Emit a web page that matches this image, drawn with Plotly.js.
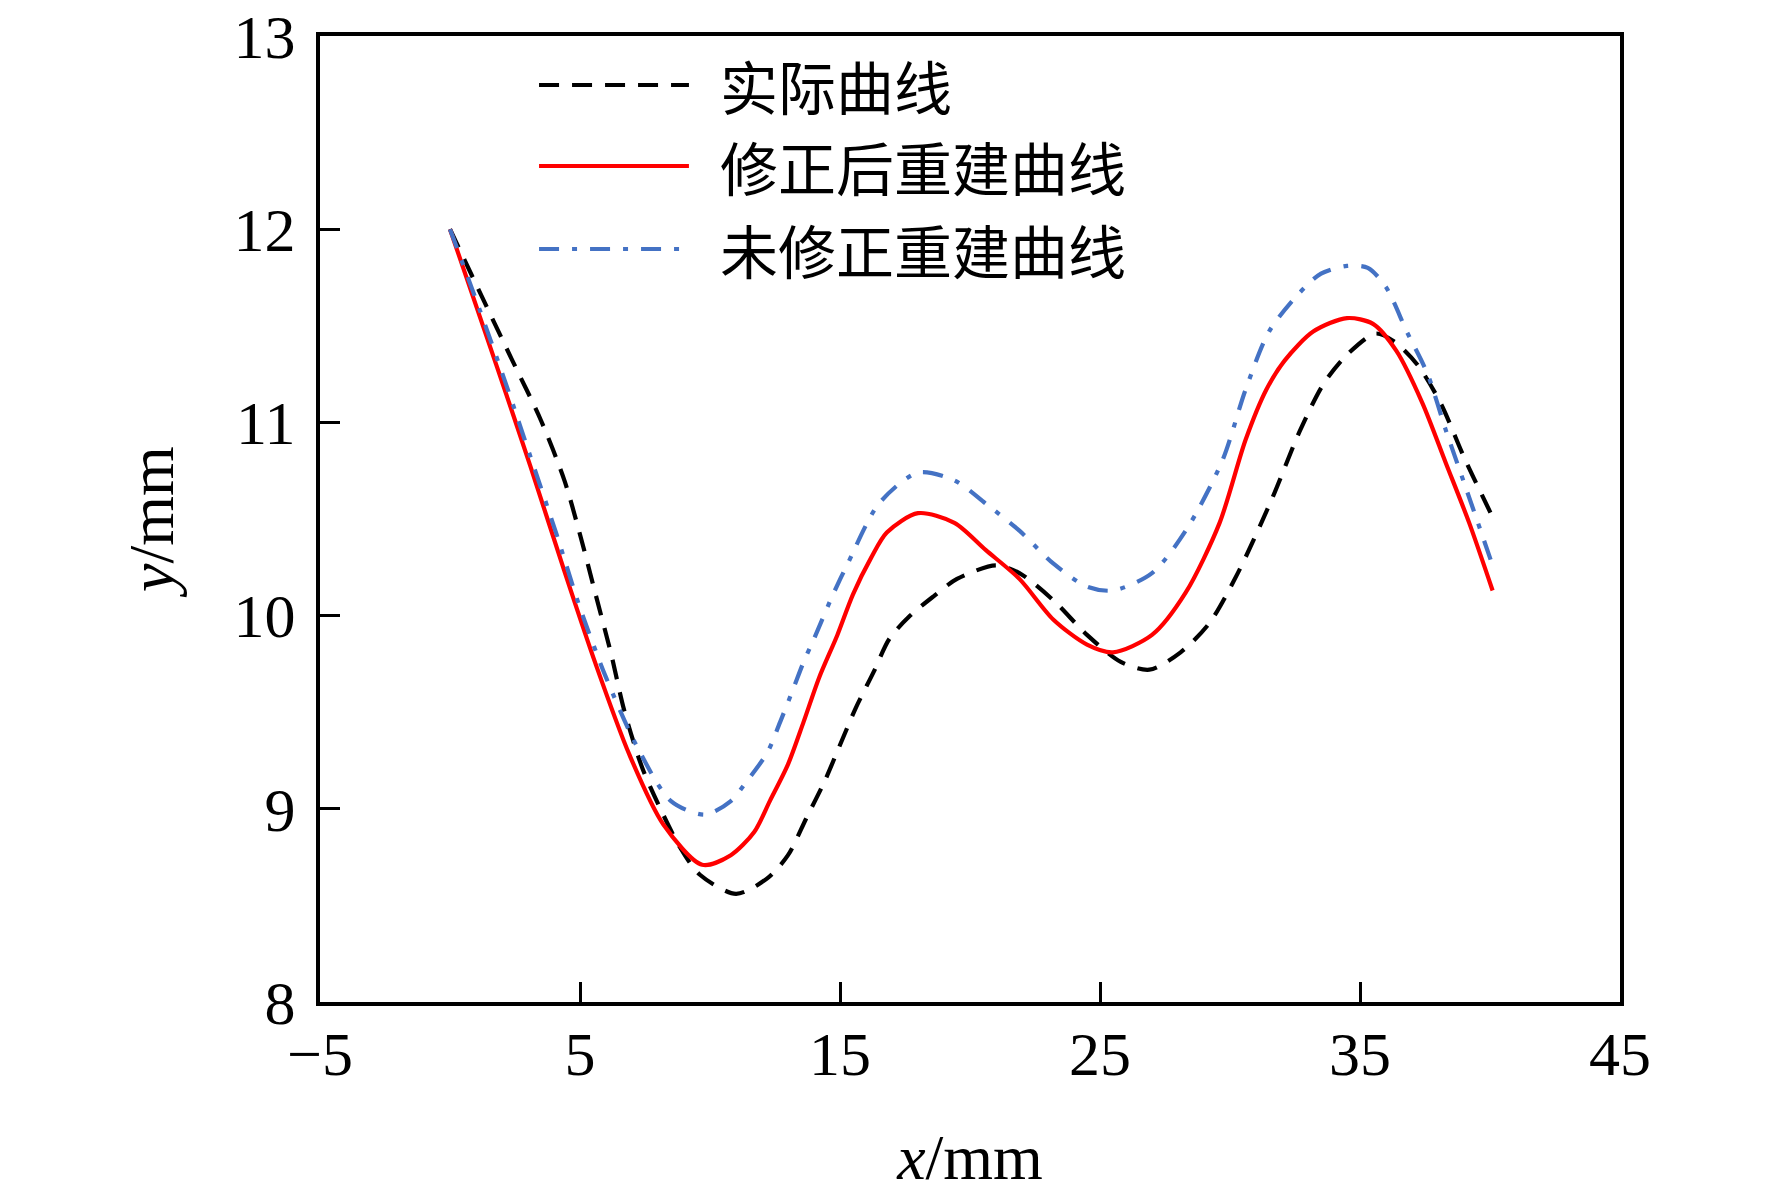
<!DOCTYPE html>
<html>
<head>
<meta charset="utf-8">
<script src="https://cdn.plot.ly/plotly-3.0.1.min.js"></script>
<style>
html,body{margin:0;padding:0;background:#fff;}
#chart{width:1772px;height:1193px;}
</style>
</head>
<body>
<div id="chart"></div>
<script>
// ---- data ----
const seriesNames = ["实际曲线", "修正后重建曲线", "未修正重建曲线"];

const xActual = [0, 1.3, 2.4, 3.5, 4.4, 5.0, 5.6, 6.2, 6.7, 7.4, 8.2, 8.85, 9.6, 11.0, 12.2, 13.0, 13.7, 14.4, 15.0, 15.6, 16.3, 16.9, 17.7, 18.6, 19.5, 21.0, 21.9, 23.2, 24.5, 25.8, 26.9, 28.1, 29.2, 30.3, 31.6, 32.7, 33.6, 34.5, 35.6, 36.3, 37.2, 38.1, 39.0, 40.1];
const yActual = [12.0, 11.63, 11.32, 11.01, 10.70, 10.42, 10.11, 9.80, 9.51, 9.21, 8.97, 8.80, 8.66, 8.56, 8.64, 8.76, 8.95, 9.14, 9.33, 9.52, 9.71, 9.88, 10.00, 10.10, 10.19, 10.26, 10.22, 10.08, 9.90, 9.76, 9.72, 9.81, 9.96, 10.22, 10.60, 10.96, 11.20, 11.35, 11.46, 11.42, 11.30, 11.10, 10.82, 10.51];

const xCorrected = [0, 1.8, 3.1, 4.4, 5.6, 6.9, 8.2, 9.7, 10.8, 11.7, 12.3, 13.0, 13.6, 14.2, 14.9, 15.5, 16.2, 16.8, 18.0, 19.4, 20.6, 21.9, 23.2, 24.5, 25.5, 27.0, 28.3, 29.6, 30.6, 31.4, 32.1, 33.2, 34.5, 35.5, 36.4, 37.4, 38.3, 39.2, 40.1];
const yCorrected = [12.0, 11.29, 10.77, 10.23, 9.75, 9.28, 8.92, 8.71, 8.76, 8.88, 9.04, 9.23, 9.45, 9.68, 9.90, 10.11, 10.30, 10.43, 10.53, 10.48, 10.34, 10.19, 9.98, 9.85, 9.81, 9.90, 10.12, 10.48, 10.91, 11.17, 11.32, 11.47, 11.54, 11.51, 11.37, 11.10, 10.79, 10.48, 10.13];

const xUncorrected = [0, 1.15, 2.2, 3.1, 4.1, 5.0, 6.0, 7.2, 8.5, 9.8, 10.8, 11.4, 12.2, 12.7, 13.2, 13.6, 14.0, 14.7, 15.3, 16.5, 18.0, 19.4, 20.6, 21.9, 23.2, 24.5, 25.5, 27.0, 28.3, 29.7, 30.6, 31.5, 32.6, 33.5, 34.5, 35.3, 36.0, 36.8, 37.6, 38.3, 39.1, 40.1];
const yUncorrected = [12.0, 11.58, 11.18, 10.82, 10.42, 10.04, 9.68, 9.32, 9.04, 8.97, 9.04, 9.14, 9.29, 9.45, 9.62, 9.76, 9.88, 10.10, 10.27, 10.58, 10.74, 10.70, 10.58, 10.44, 10.27, 10.15, 10.13, 10.22, 10.44, 10.80, 11.17, 11.47, 11.66, 11.77, 11.81, 11.80, 11.70, 11.47, 11.25, 10.96, 10.65, 10.26];

const xTickVals = [-5, 5, 15, 25, 35, 45];
const yTickVals = [8, 9, 10, 11, 12, 13];

// ---- styles ----
const styles = [
  {color: "#000000", dash: "20px,13px", width: 4.2},
  {color: "#ff0000", dash: "solid", width: 4.2},
  {color: "#4472c4", dash: "20px,13px,5px,13px", width: 4.2}
];

const xs = [xActual, xCorrected, xUncorrected];
const ys = [yActual, yCorrected, yUncorrected];

const traces = xs.map((x, i) => ({
  x: x, y: ys[i], type: "scatter", mode: "lines", name: seriesNames[i],
  line: {color: styles[i].color, dash: styles[i].dash, width: styles[i].width, shape: "spline", smoothing: 0.8},
  showlegend: false, hoverinfo: "skip"
}));

// manual legend (long line samples like the reference)
const legendPx = [85, 166, 249];           // vertical centres of legend rows (px from top)
const plotTop = 36, plotBottom = 1002;
const legendY = legendPx.map(p => (plotBottom - p) / (plotBottom - plotTop));
const shapes = [];
const annotations = [];
seriesNames.forEach((n, i) => {
  shapes.push({type: "line", xref: "paper", yref: "paper", x0: 0.1685, x1: 0.2838, y0: legendY[i], y1: legendY[i],
    line: {color: styles[i].color, dash: styles[i].dash, width: styles[i].width}});
  annotations.push({xref: "paper", yref: "paper", x: 0.306, y: legendY[i], xanchor: "left", yanchor: "middle",
    text: n, showarrow: false, font: {family: "Noto Sans CJK SC", size: 58, color: "#000"}});
});

const serif = "Liberation Serif, Times New Roman, serif";
const numFont = {family: serif, size: 62, color: "#000"};

const layout = {
  width: 1772, height: 1193,
  margin: {l: 320, r: 152, t: plotTop, b: 1193 - plotBottom, pad: 0},
  paper_bgcolor: "#fff", plot_bgcolor: "#fff",
  xaxis: {
    range: [-5, 45], tickvals: xTickVals, ticktext: xTickVals.map(v => v < 0 ? "\u2212" + Math.abs(v) : String(v)),
    ticks: "inside", ticklen: 20, tickwidth: 3, tickcolor: "#000",
    showline: true, linewidth: 4, linecolor: "#000", mirror: true,
    showgrid: false, zeroline: false, tickfont: numFont, ticklabelstandoff: -5, ticklabeloverflow: "allow",
    title: {text: "<i>x</i>/mm", font: {family: serif, size: 64, color: "#000"}, standoff: 48}
  },
  yaxis: {
    range: [8, 13], tickvals: yTickVals,
    ticks: "inside", ticklen: 20, tickwidth: 3, tickcolor: "#000",
    showline: true, linewidth: 4, linecolor: "#000", mirror: true,
    showgrid: false, zeroline: false, tickfont: numFont, ticklabelstandoff: 8, ticklabeloverflow: "allow",
    title: {text: "<i>y</i>/mm", font: {family: serif, size: 64, color: "#000"}, standoff: 40}
  },
  shapes: shapes,
  annotations: annotations,
  showlegend: false
};

Plotly.newPlot("chart", traces, layout, {staticPlot: true, displayModeBar: false});
</script>
</body>
</html>
